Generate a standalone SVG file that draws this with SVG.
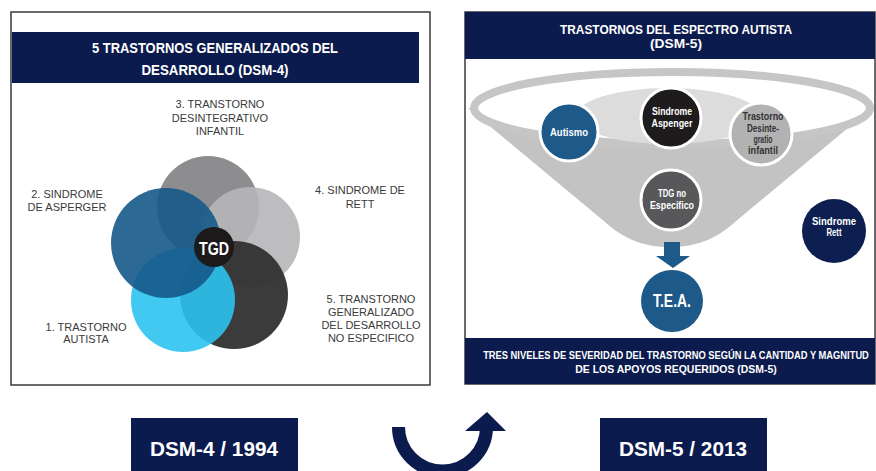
<svg xmlns="http://www.w3.org/2000/svg" width="876" height="471" viewBox="0 0 876 471">
<style>
.frame{fill:#fff;stroke:#3a3a3a;stroke-width:1.5}
.navy{fill:#0c1b4d}
.hd{font-family:"Liberation Sans",Arial,sans-serif;font-weight:bold;fill:#fff;text-anchor:middle}
.lbl{font-family:"Liberation Sans",Arial,sans-serif;font-size:11px;fill:#3a3a3a;text-anchor:middle}
.ct{font-family:"Liberation Sans",Arial,sans-serif;font-weight:bold;font-size:11px;fill:#fff;text-anchor:middle}
.ctd{font-family:"Liberation Sans",Arial,sans-serif;font-weight:bold;font-size:11px;fill:#333;text-anchor:middle}
.wb{stroke:#fff;stroke-width:3}
</style>

<!-- LEFT PANEL -->
<g id="panel-dsm4">
  <rect class="frame" x="11" y="12" width="419" height="373"/>
  <rect class="navy" x="12" y="32" width="407" height="51"/>
  <text class="hd" x="215" y="53" font-size="15" textLength="246" lengthAdjust="spacingAndGlyphs">5 TRASTORNOS GENERALIZADOS DEL</text>
  <text class="hd" x="215" y="75" font-size="15" textLength="147" lengthAdjust="spacingAndGlyphs">DESARROLLO (DSM-4)</text>
</g>

<g id="venn">
  <circle cx="208" cy="207" r="51" fill="#8d8d8f"/>
  <circle cx="250" cy="237" r="50" fill="#b6b6b8" opacity="0.9"/>
  <circle cx="234" cy="295" r="54" fill="#323031" opacity="0.95"/>
  <circle cx="183" cy="300" r="52" fill="#2cc3ef" opacity="0.9"/>
  <circle cx="166" cy="243" r="55" fill="#15598a" opacity="0.9"/>
</g>
<g id="n-tgd">
  <circle cx="214" cy="247" r="20" fill="#1c1a1b"/>
  <text class="hd" x="214" y="255" font-size="18" textLength="30" lengthAdjust="spacingAndGlyphs">TGD</text>
</g>
<g id="n-l3">
  <text class="lbl" x="220" y="108">3. TRANSTORNO</text>
  <text class="lbl" x="220" y="121.5">DESINTEGRATIVO</text>
  <text class="lbl" x="220" y="134.5">INFANTIL</text>
</g>
<g id="n-l2">
  <text class="lbl" x="67" y="197.5">2. SINDROME</text>
  <text class="lbl" x="67" y="210.5">DE ASPERGER</text>
</g>
<g id="n-l4">
  <text class="lbl" x="360" y="194">4. SINDROME DE</text>
  <text class="lbl" x="360" y="207.5">RETT</text>
</g>
<g id="n-l1">
  <text class="lbl" x="86" y="330.5">1. TRASTORNO</text>
  <text class="lbl" x="86" y="343">AUTISTA</text>
</g>
<g id="n-l5">
  <text class="lbl" x="371" y="302.5">5. TRANSTORNO</text>
  <text class="lbl" x="371" y="315.5">GENERALIZADO</text>
  <text class="lbl" x="371" y="328.5">DEL DESARROLLO</text>
  <text class="lbl" x="371" y="341.5">NO ESPECIFICO</text>
</g>

<!-- RIGHT PANEL -->
<g id="panel-dsm5">
  <rect class="frame" x="465" y="12" width="410" height="372"/>
  <rect class="navy" x="465" y="12" width="410" height="47"/>
  <text class="hd" x="676" y="34" font-size="13" textLength="232" lengthAdjust="spacingAndGlyphs">TRASTORNOS DEL ESPECTRO AUTISTA</text>
  <text class="hd" x="676" y="48" font-size="13" textLength="52" lengthAdjust="spacingAndGlyphs">(DSM-5)</text>
</g>

<g id="funnel">
  <path d="M 468,108 L 605,222 C 625,240 645,247 670,247 C 695,247 715,240 735,222 L 872,108 Z" fill="#c3c3c3"/>
  <ellipse cx="672" cy="108" rx="198" ry="36" fill="#fff" stroke="#c6c6c6" stroke-width="8"/>
  <ellipse cx="668" cy="116" rx="92" ry="28" fill="#dcdcdc"/>
</g>

<g id="n-autismo">
  <circle class="wb" cx="569" cy="132" r="29" fill="#1d5989"/>
  <text class="ct" x="569" y="136" textLength="38" lengthAdjust="spacingAndGlyphs">Autismo</text>
</g>
<g id="n-asperger">
  <circle class="wb" cx="671" cy="118" r="30" fill="#1e1b1c"/>
  <text class="ct" x="672" y="115" textLength="40" lengthAdjust="spacingAndGlyphs">Sindrome</text>
  <text class="ct" x="672" y="127" textLength="41" lengthAdjust="spacingAndGlyphs">Aspenger</text>
</g>
<g id="n-desintegrativo">
  <circle class="wb" cx="761" cy="134" r="31" fill="#b2b2b2"/>
  <text class="ctd" x="763" y="120" textLength="41" lengthAdjust="spacingAndGlyphs">Trastorno</text>
  <text class="ctd" x="763" y="132" textLength="32" lengthAdjust="spacingAndGlyphs">Desinte-</text>
  <text class="ctd" x="763" y="143" textLength="19" lengthAdjust="spacingAndGlyphs">gratio</text>
  <text class="ctd" x="763" y="154" textLength="30" lengthAdjust="spacingAndGlyphs">infantil</text>
</g>
<g id="n-tdg">
  <circle class="wb" cx="671" cy="200" r="30" fill="#58585a"/>
  <text class="ct" x="672" y="197" textLength="28" lengthAdjust="spacingAndGlyphs">TDG no</text>
  <text class="ct" x="672" y="209" textLength="44" lengthAdjust="spacingAndGlyphs">Especifico</text>
</g>
<g id="n-rett">
  <circle cx="834" cy="231" r="32" fill="#0c1f50"/>
  <text class="ct" x="834" y="225" textLength="44" lengthAdjust="spacingAndGlyphs">Sindrome</text>
  <text class="ct" x="834" y="236" textLength="15" lengthAdjust="spacingAndGlyphs">Rett</text>
</g>
<g id="n-tea">
  <circle cx="672" cy="301" r="31" fill="#1d5989"/>
  <text class="hd" x="672" y="307" font-size="19" textLength="38" lengthAdjust="spacingAndGlyphs">T.E.A.</text>
</g>

<g id="n-niveles">
  <rect class="navy" x="465" y="338" width="410" height="46"/>
  <g transform="translate(676,359) scale(0.85,1)">
    <text class="hd" x="0" y="0" font-size="11">TRES NIVELES DE SEVERIDAD DEL TRASTORNO SEGÚN LA CANTIDAD Y MAGNITUD</text>
  </g>
  <g transform="translate(676,373) scale(0.95,1)">
    <text class="hd" x="0" y="0" font-size="11">DE LOS APOYOS REQUERIDOS (DSM-5)</text>
  </g>
</g>

<g id="n-dsm4-1994">
  <rect class="navy" x="131" y="418" width="167" height="53"/>
  <text class="hd" x="214" y="456" font-size="20" textLength="128" lengthAdjust="spacingAndGlyphs">DSM-4 / 1994</text>
</g>
<g id="n-dsm5-2013">
  <rect class="navy" x="600" y="418" width="167" height="53"/>
  <text class="hd" x="683" y="456" font-size="20" textLength="128" lengthAdjust="spacingAndGlyphs">DSM-5 / 2013</text>
</g>

<g id="connectors">
  <path d="M 664,242 H 680 V 256 H 690 L 673,268 L 656,256 H 664 Z" fill="#1d5989"/>
  <path d="M 398.5,427 A 44,44 0 0 0 486.5,427" fill="none" stroke="#0c1b4d" stroke-width="13"/>
  <polygon points="465,431 487,412 506,431" fill="#0c1b4d"/>
</g>
</svg>
